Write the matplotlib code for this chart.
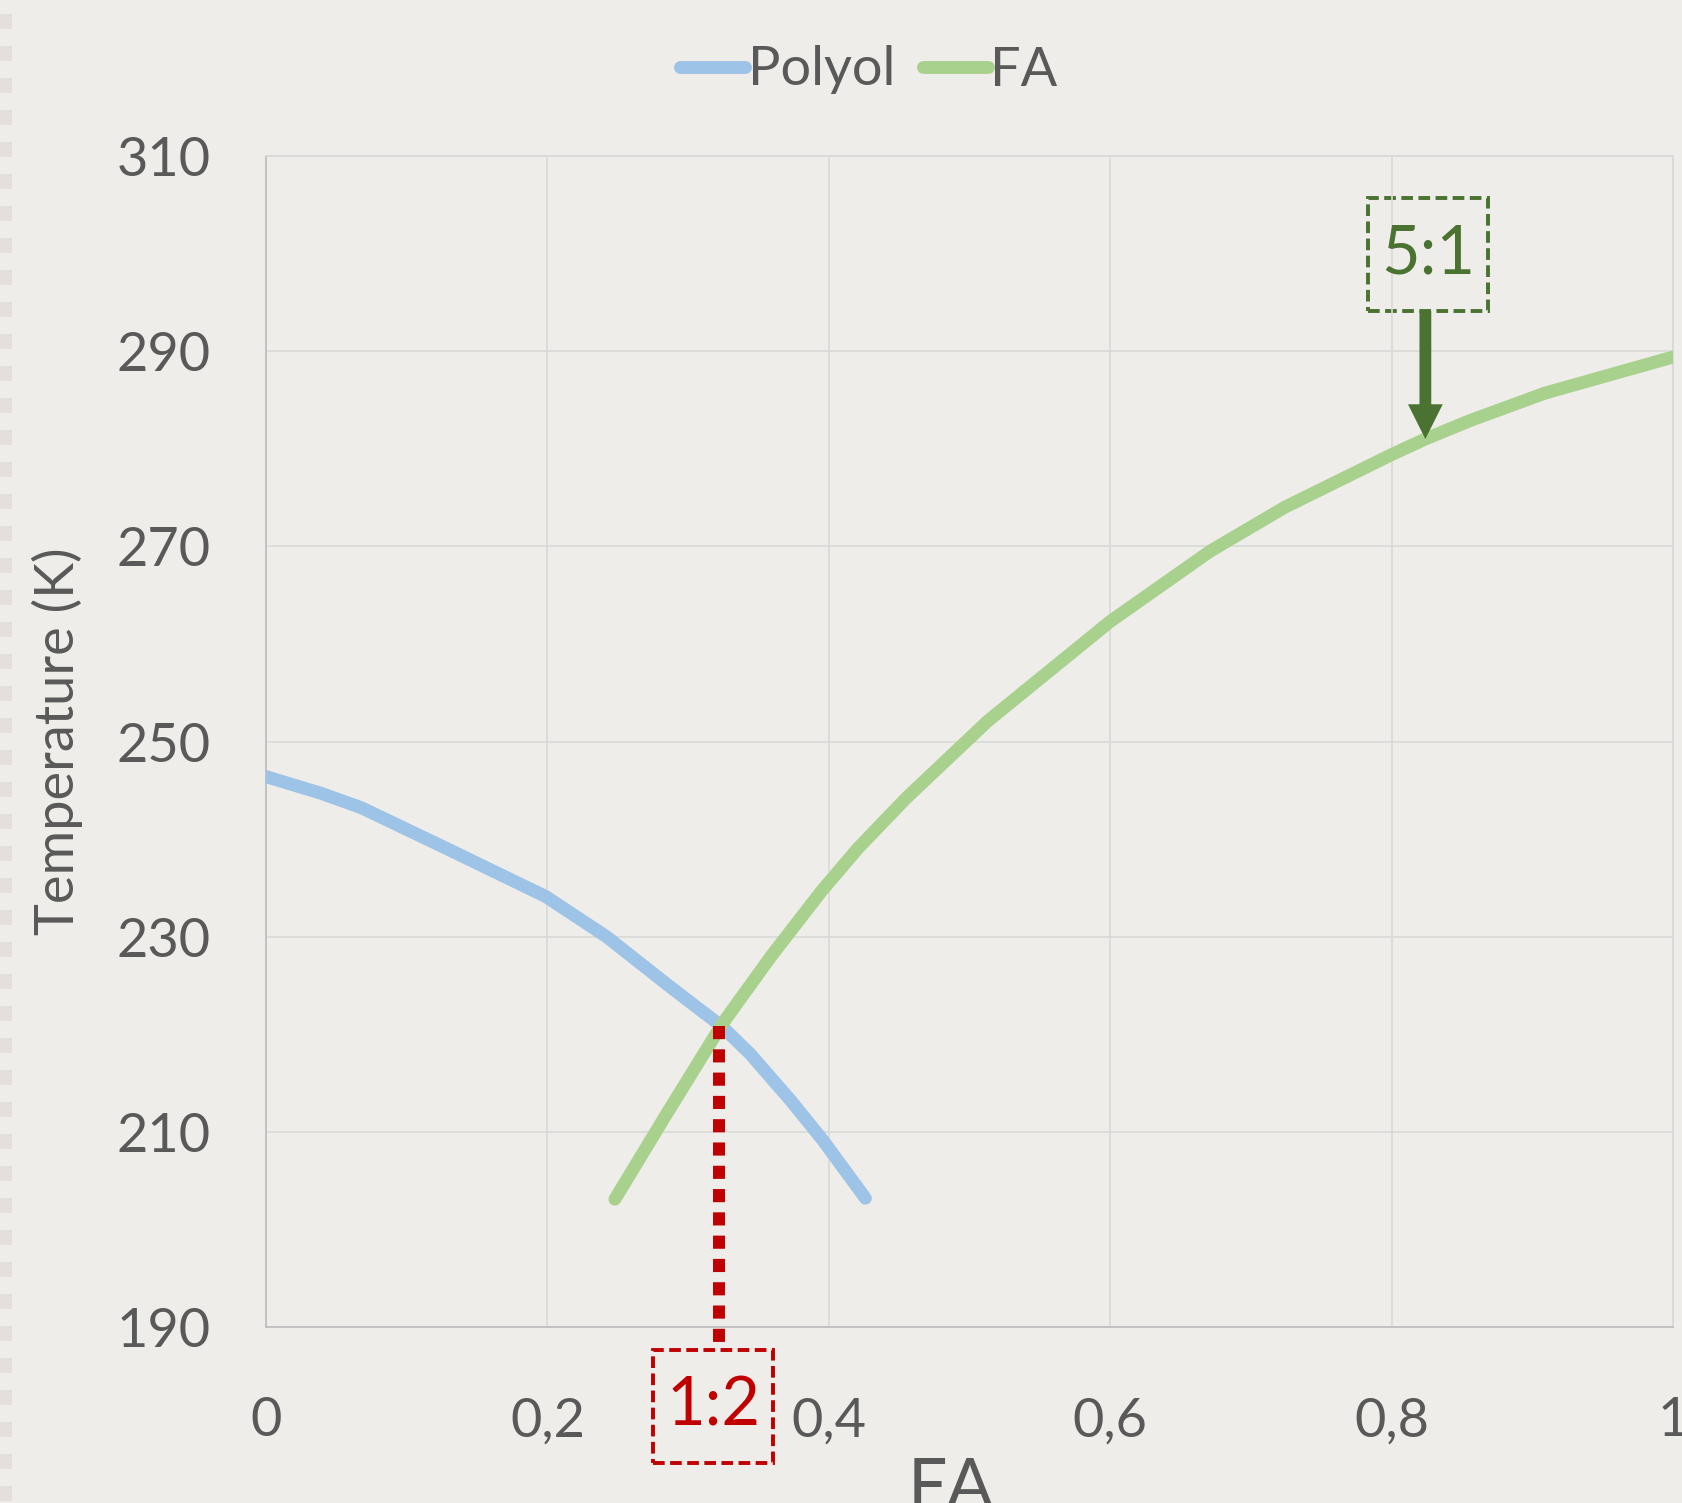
import numpy as np
import matplotlib.pyplot as plt
from matplotlib.patches import Rectangle

plt.rcParams['font.family'] = ['Lato', 'DejaVu Sans']

# ── Données ───────────────────────────────────────────────
polyol_x = [0.0, 0.039, 0.068, 0.126, 0.199, 0.242, 0.286, 0.324, 0.344, 0.373, 0.396, 0.426]
polyol_T = [246.4, 244.7, 243.2, 239.2, 234.1, 230.0, 225.0, 220.8, 218.0, 213.2, 209.1, 203.2]

fa_x = [0.248, 0.285, 0.324, 0.359, 0.395, 0.421, 0.455, 0.513, 0.6, 0.671,
        0.724, 0.8, 0.824, 0.856, 0.909, 1.0]
fa_T = [203.1, 211.9, 221.0, 228.0, 234.7, 239.1, 244.2, 252.1, 262.3, 269.5,
        274.0, 279.4, 281.0, 282.9, 285.7, 289.4]

x_ticks = [0, 0.2, 0.4, 0.6, 0.8, 1]
x_labels = ['0', '0,2', '0,4', '0,6', '0,8', '1']
y_ticks = [190, 210, 230, 250, 270, 290, 310]

# annotations
eut_x, eut_T = 0.322, 220.8
eut_label = '1:2'
peak_x, peak_T = 0.824, 281.0
peak_label = '5:1'

bg = '#EEEDE9'
grey = '#595959'
red = '#C00000'
dkgreen = '#4A7230'

W, H = 1682, 1503
fig = plt.figure(figsize=(W / 100, H / 100), dpi=100, facecolor=bg)
ax = fig.add_axes([266 / W, 1 - 1327 / H, (1673 - 266) / W, (1327 - 156) / H])
ax.set_facecolor(bg)

# bande pointillée à gauche
for y0 in range(14, H, 32):
    fig.patches.append(Rectangle((0, 1 - (y0 + 15) / H), 12 / W, 15 / H,
                                 transform=fig.transFigure, color='#E4DFDB', lw=0))

ax.plot(polyol_x, polyol_T, color='#9DC3E6', lw=9.3, solid_capstyle='round',
        solid_joinstyle='round', label='Polyol', zorder=3)
ax.plot(fa_x, fa_T, color='#A9D18E', lw=9.3, solid_capstyle='round',
        solid_joinstyle='round', label='FA', zorder=3)

ax.set_xlim(0, 1)
ax.set_ylim(190, 310)
ax.set_xticks(x_ticks)
ax.set_xticklabels(x_labels)
ax.set_yticks(y_ticks)
ax.grid(True, color='#D9D9D9', lw=1.2)
ax.tick_params(length=0, labelsize=39, colors=grey)
ax.tick_params(axis='x', pad=50)
ax.tick_params(axis='y', pad=40)
for s in ['top', 'right']:
    ax.spines[s].set_color('#D9D9D9')
for s in ['left', 'bottom']:
    ax.spines[s].set_color('#BFBFBF')
for s in ax.spines.values():
    s.set_linewidth(1.3)

ax.set_ylabel('Temperature (K)', fontsize=39, color=grey, labelpad=24)
fig.text(951 / W, 1 - 1457 / H, 'FA', fontsize=50, color=grey, ha='center', va='top')

# ligne eutectique + boîte 1:2
box_w, box_h = 120 / 1407, 113 / 1171 * 120
box_c_T = 181.85
ax.plot([eut_x, eut_x], [eut_T, box_c_T + box_h / 2], color=red, lw=8.6,
        dashes=(1.1, 0.85), dash_capstyle='butt', clip_on=False, zorder=4)
ax.add_patch(Rectangle((eut_x - 0.004 - box_w / 2, box_c_T - box_h / 2), box_w, box_h,
                       fill=False, ec=red, lw=2.8, ls=(0, (3, 1.4)), clip_on=False))
ax.text(eut_x - 0.004, box_c_T, eut_label, color=red, fontsize=48, ha='center', va='center')

# flèche + boîte 5:1
box2_T = 299.9
ax.add_patch(Rectangle((peak_x + 0.002 - box_w / 2, box2_T - box_h / 2), box_w, box_h,
                       fill=False, ec=dkgreen, lw=2.8, ls=(0, (3, 1.4)), clip_on=False))
ax.text(peak_x + 0.002, box2_T, peak_label, color=dkgreen, fontsize=48, ha='center', va='center')
ax.annotate('', xy=(peak_x, peak_T), xytext=(peak_x, box2_T - box_h / 2),
            arrowprops=dict(width=8.5, headwidth=25, headlength=25, shrink=0,
                            color=dkgreen, lw=0), zorder=5)

ax.legend(loc='center', bbox_to_anchor=(869 / W, 1 - 70 / H), bbox_transform=fig.transFigure,
          ncol=2, frameon=False, fontsize=39, labelcolor=grey, handlelength=1.2,
          handletextpad=0.05, columnspacing=0.5)

plt.savefig('out.png', dpi=100, facecolor=bg)
